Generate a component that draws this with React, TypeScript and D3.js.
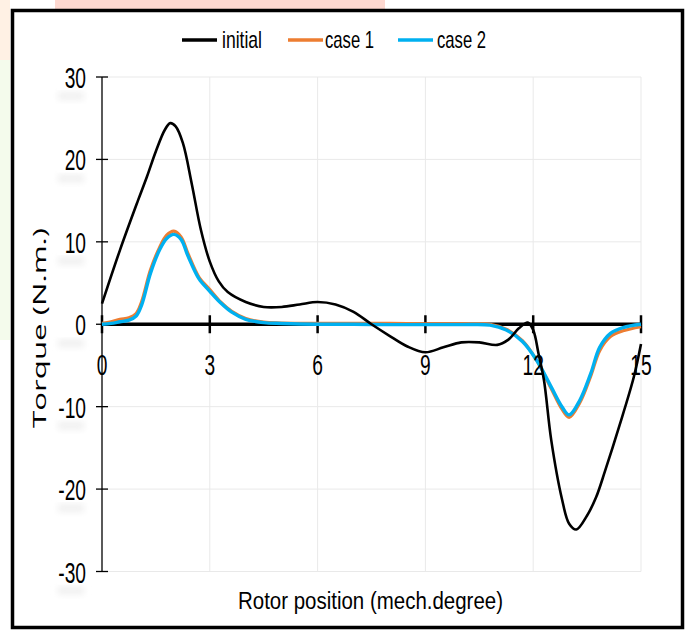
import React from "react";
import * as d3 from "d3";

// rotor position (mech. degree) and torque (N.m.)
const initialX = [0, 0.5, 1.0, 1.25, 1.5, 1.75, 1.9, 2.05, 2.25, 2.5, 2.75, 3.0, 3.25, 3.5, 4.0, 4.5, 5.0, 5.5, 6.0, 6.5, 7.0, 7.5, 8.0, 8.5, 9.0, 9.5, 10.0, 10.5, 11.0, 11.3, 11.6, 11.85, 12.0, 12.15, 12.3, 12.5, 12.8, 13.0, 13.2, 13.5, 13.75, 14.0, 14.4, 14.8, 15];
const initialY = [2.5, 9.0, 15.0, 17.9, 21.0, 23.6, 24.4, 24.0, 22.0, 17.0, 11.5, 7.6, 5.2, 3.9, 2.7, 2.1, 2.1, 2.4, 2.7, 2.4, 1.5, 0, -1.4, -2.7, -3.4, -2.8, -2.2, -2.2, -2.5, -1.9, -0.5, 0.2, -0.7, -3.6, -6.8, -14.0, -21.2, -24.2, -24.9, -23.2, -21.0, -17.8, -12.3, -6.4, -2.4];

const caseX = [0, 0.25, 0.5, 0.75, 0.95, 1.1, 1.35, 1.6, 1.8, 2.0, 2.2, 2.4, 2.7, 3.0, 3.3, 3.6, 4.0, 4.5, 5, 6, 7, 8, 9, 10, 10.8, 11.25, 11.7, 12.1, 12.5, 12.8, 13.0, 13.3, 13.6, 13.85, 14.15, 14.5, 15];
const case1Y = [0.1, 0.3, 0.6, 0.8, 1.3, 2.7, 6.6, 9.3, 10.8, 11.3, 10.6, 8.5, 5.7, 4.2, 2.7, 1.6, 0.7, 0.25, 0.15, 0.1, 0.1, 0.1, 0.05, 0.05, 0, -0.6, -2.0, -4.4, -7.8, -10.3, -11.3, -9.5, -6.3, -3.2, -1.5, -0.8, -0.3];
const case2Y = [0, 0.1, 0.3, 0.5, 1.0, 2.3, 6.2, 9.0, 10.4, 10.9, 10.3, 8.2, 5.5, 4.0, 2.6, 1.5, 0.6, 0.2, 0.1, 0, 0, -0.05, -0.05, -0.05, -0.1, -0.7, -2.1, -4.4, -7.6, -10.0, -11.0, -9.2, -6.0, -2.8, -1.1, -0.4, 0];

const xTicks = [0, 3, 6, 9, 12, 15];
const yTicks = [30, 20, 10, 0, -10, -20, -30];

const legendItems = [
  { name: "initial", color: "#000000", x0: 182, tx: 222, tw: 40 },
  { name: "case 1", color: "#ED7D31", x0: 288, tx: 325, tw: 49 },
  { name: "case 2", color: "#00B0F0", x0: 398, tx: 437, tw: 49 },
];

const FONT = "'Liberation Sans', Arial, sans-serif";

export default function App() {
  const x = d3.scaleLinear().domain([0, 15]).range([102, 641]);
  const y = d3.scaleLinear().domain([-30, 30]).range([571.5, 77]);

  const line = d3
    .line<[number, number]>()
    .x((d) => x(d[0]))
    .y((d) => y(d[1]))
    .curve(d3.curveCatmullRom.alpha(0.5));

  const series = [
    { pts: caseX.map((v, i) => [v, case1Y[i]] as [number, number]), color: "#ED7D31", w: 3.2 },
    { pts: caseX.map((v, i) => [v, case2Y[i]] as [number, number]), color: "#00B0F0", w: 3.4 },
    { pts: initialX.map((v, i) => [v, initialY[i]] as [number, number]), color: "#000000", w: 2.6 },
  ];

  return (
    <svg
      width={689}
      height={630}
      style={{ position: "absolute", left: 0, top: 0, background: "#fff" }}
    >
      <defs>
        <filter id="blur" x="-50%" y="-50%" width="200%" height="200%">
          <feGaussianBlur stdDeviation="3" />
        </filter>
      </defs>

      {/* watermark remnants outside the frame */}
      <rect x={55} y={0} width={330} height={9} fill="#fdd8d0" />
      <rect x={0} y={0} width={10} height={60} fill="#fff1e4" />
      <rect x={0} y={60} width={10} height={280} fill="#f4fbec" />

      {/* frame */}
      <rect x={12.5} y={10.5} width={670} height={617} fill="#fff" stroke="#000" strokeWidth={3.5} />

      {/* gridlines */}
      {yTicks.filter((t) => t !== 0).map((t) => (
        <line key={"gy" + t} x1={x(0)} x2={x(15)} y1={y(t)} y2={y(t)} stroke="#e9e9e9" strokeWidth={1} />
      ))}
      {xTicks.filter((t) => t !== 0).map((t) => (
        <line key={"gx" + t} x1={x(t)} x2={x(t)} y1={y(30)} y2={y(-30)} stroke="#e9e9e9" strokeWidth={1} />
      ))}

      {/* y axis */}
      <line x1={x(0)} x2={x(0)} y1={y(30)} y2={y(-30)} stroke="#000" strokeWidth={1.3} />
      {yTicks.map((t) => (
        <line key={"ty" + t} x1={x(0) - 6} x2={x(0) + 6} y1={y(t)} y2={y(t)} stroke="#000" strokeWidth={1.3} />
      ))}
      {yTicks.map((t) => (
        <g key={"ly" + t}>
          <rect x={58} y={y(t) + 15} width={26} height={8} fill="#f0f0f0" filter="url(#blur)" />
          <rect x={57} y={y(t) - 13} width={28} height={26} fill="#fff" />
          <text
            transform={`translate(86,${y(t) + 11}) scale(0.64,1)`}
            textAnchor="end"
            fontFamily={FONT}
            fontSize={30}
            fill="#000"
          >
            {t}
          </text>
        </g>
      ))}

      {/* x axis at zero */}
      <line x1={x(0)} x2={x(15)} y1={y(0)} y2={y(0)} stroke="#000" strokeWidth={3.5} />
      {xTicks.map((t) => (
        <line key={"tx" + t} x1={x(t)} x2={x(t)} y1={y(0) - 9} y2={y(0) + 9} stroke="#000" strokeWidth={2.5} />
      ))}

      {/* series */}
      {series.map((s, i) => (
        <path key={i} d={line(s.pts) || ""} fill="none" stroke={s.color} strokeWidth={s.w} strokeLinejoin="round" />
      ))}

      {/* x tick labels */}
      {xTicks.map((t) => (
        <text
          key={"lx" + t}
          transform={`translate(${x(t)},375) scale(0.64,1)`}
          textAnchor="middle"
          fontFamily={FONT}
          fontSize={30}
          fill="#000"
        >
          {t}
        </text>
      ))}

      {/* legend */}
      {legendItems.map((d) => (
        <g key={d.name}>
          <line x1={d.x0} x2={d.x0 + 35} y1={40} y2={40} stroke={d.color} strokeWidth={3.5} />
          <text
            x={d.tx}
            y={47.5}
            fontFamily={FONT}
            fontSize={24}
            textLength={d.tw}
            lengthAdjust="spacingAndGlyphs"
            fill="#000"
          >
            {d.name}
          </text>
        </g>
      ))}

      {/* axis titles */}
      <text
        x={238}
        y={609}
        fontFamily={FONT}
        fontSize={23}
        textLength={265}
        lengthAdjust="spacingAndGlyphs"
        fill="#000"
      >
        Rotor position (mech.degree)
      </text>
      <text
        transform="translate(46,428) rotate(-90)"
        fontFamily="'Open Sans', sans-serif"
        fontSize={19}
        textLength={200}
        lengthAdjust="spacingAndGlyphs"
        fill="#000"
      >
        Torque (N.m.)
      </text>
    </svg>
  );
}
